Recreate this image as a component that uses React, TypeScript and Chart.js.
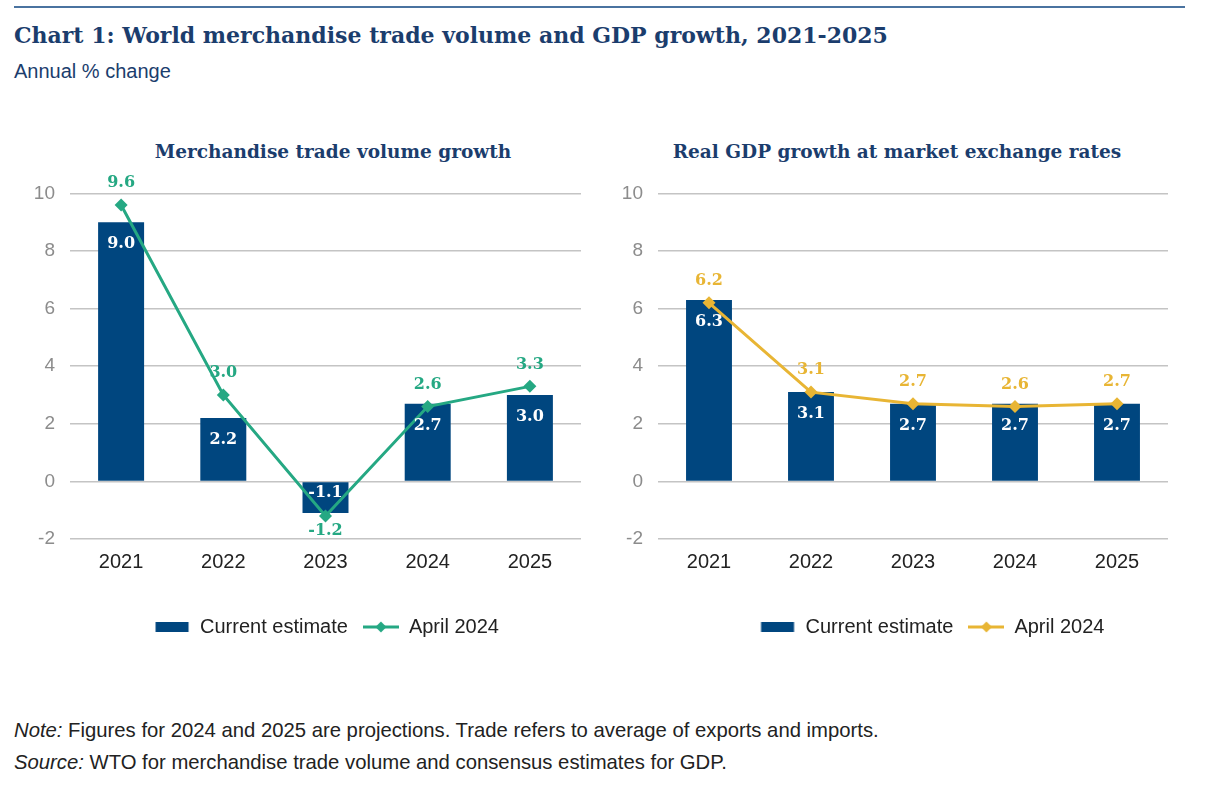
import React, { useEffect, useRef } from "react";
import { Chart, registerables } from "chart.js";

Chart.register(...registerables);

// ---- Data ----
const years = ["2021", "2022", "2023", "2024", "2025"];
const tradeCurrent = [9.0, 2.2, -1.1, 2.7, 3.0];
const tradeApril2024 = [9.6, 3.0, -1.2, 2.6, 3.3];
const gdpCurrent = [6.3, 3.1, 2.7, 2.7, 2.7];
const gdpApril2024 = [6.2, 3.1, 2.7, 2.6, 2.7];
const yMin = -2;
const yMax = 10;
const yStep = 2;
const seriesNames = ["Current estimate", "April 2024"];

// ---- Styles ----
const NAVY = "#00467f";
const GREEN = "#25a883";
const GOLD = "#e8b534";
const TITLE_NAVY = "#1b3d6d";
const SANS = '"Liberation Sans", Arial, sans-serif';
const SERIF = '"DejaVu Serif", "Liberation Serif", serif';

function makeBarIcon(color: string) {
  const c = document.createElement("canvas");
  c.width = 36;
  c.height = 14;
  const g = c.getContext("2d")!;
  g.fillStyle = color;
  g.fillRect(1.5, 2, 33, 10);
  return c;
}

function makeLineIcon(color: string) {
  const c = document.createElement("canvas");
  c.width = 36;
  c.height = 14;
  const g = c.getContext("2d")!;
  g.strokeStyle = color;
  g.lineWidth = 3;
  g.beginPath();
  g.moveTo(0, 7);
  g.lineTo(36, 7);
  g.stroke();
  g.fillStyle = color;
  g.beginPath();
  g.moveTo(18 - 5.5, 7);
  g.lineTo(18, 7 - 5.5);
  g.lineTo(18 + 5.5, 7);
  g.lineTo(18, 7 + 5.5);
  g.closePath();
  g.fill();
  return c;
}

const legendShiftPlugin = {
  id: "legendShift",
  afterLayout(chart: any, _args: any, opts: any) {
    const lg = chart.legend;
    if (lg && opts && opts.dx) {
      lg.left += opts.dx;
      lg.right += opts.dx;
    }
  },
};

const valueLabelPlugin = {
  id: "valueLabels",
  afterDatasetsDraw(chart: any) {
    const ctx = chart.ctx;
    chart.data.datasets.forEach((ds: any, i: number) => {
      const meta = chart.getDatasetMeta(i);
      meta.data.forEach((el: any, j: number) => {
        const v = ds.data[j] as number;
        const txt = v.toFixed(1);
        ctx.save();
        ctx.font = 'bold 16px "DejaVu Serif", "Liberation Serif", serif';
        ctx.textAlign = "center";
        ctx.textBaseline = "middle";
        if (meta.type === "bar") {
          ctx.fillStyle = "#ffffff";
          const y = v >= 0 ? el.y + 22 : el.base + 11;
          ctx.fillText(txt, el.x, y);
        } else {
          ctx.fillStyle = ds.borderColor;
          const y = v >= 0 ? el.y - 22 : el.y + 15;
          ctx.fillText(txt, el.x, y);
        }
        ctx.restore();
      });
    });
  },
};

function Panel(props: {
  current: number[];
  april: number[];
  lineColor: string;
  legendDx: number;
  padRight: number;
  width: number;
  height: number;
}) {
  const ref = useRef<HTMLCanvasElement | null>(null);
  useEffect(() => {
    if (!ref.current) return;
    const barIcon = makeBarIcon(NAVY);
    const lineIcon = makeLineIcon(props.lineColor);
    const chart = new Chart(ref.current, {
      type: "bar",
      data: {
        labels: years,
        datasets: [
          {
            type: "bar",
            label: seriesNames[0],
            data: props.current,
            backgroundColor: NAVY,
            barPercentage: 0.9,
            categoryPercentage: 0.5,
            order: 1,
          } as any,
          {
            type: "line",
            label: seriesNames[1],
            data: props.april,
            borderColor: props.lineColor,
            backgroundColor: props.lineColor,
            borderWidth: 3,
            pointStyle: "rectRot",
            pointRadius: 6.5,
            pointBackgroundColor: props.lineColor,
            pointBorderWidth: 0,
            tension: 0,
            order: 0,
            clip: false,
          } as any,
        ],
      },
      options: {
        animation: false,
        responsive: false,
        events: [],
        layout: { padding: { left: 0, right: props.padRight, top: 20, bottom: 13 } },
        plugins: {
          tooltip: { enabled: false },
          title: { display: false },
          legend: {
            position: "bottom",
            labels: {
              usePointStyle: true,
              pointStyleWidth: 36,
              padding: 15,
              color: "#222222",
              font: { family: SANS, size: 20 },
              generateLabels: () => [
                {
                  text: seriesNames[0],
                  pointStyle: barIcon,
                  fillStyle: NAVY,
                  strokeStyle: NAVY,
                  lineWidth: 0,
                  hidden: false,
                  datasetIndex: 0,
                  fontColor: "#222222",
                } as any,
                {
                  text: seriesNames[1],
                  pointStyle: lineIcon,
                  fillStyle: props.lineColor,
                  strokeStyle: props.lineColor,
                  lineWidth: 0,
                  hidden: false,
                  datasetIndex: 1,
                  fontColor: "#222222",
                } as any,
              ],
            },
          },
          legendShift: { dx: props.legendDx },
        } as any,
        scales: {
          x: {
            grid: { display: false, drawTicks: false },
            border: { display: false },
            ticks: { color: "#222222", font: { family: SANS, size: 20 }, padding: 11 },
            afterFit: (s: any) => {
              s.height = 63;
            },
          },
          y: {
            min: yMin,
            max: yMax,
            ticks: {
              stepSize: yStep,
              color: "#8c8c8c",
              font: { family: SANS, size: 19 },
              padding: 15,
            },
            grid: { color: "#c4c4c4", lineWidth: 1.5, drawTicks: false },
            border: { display: false },
            afterFit: (s: any) => {
              s.width = 70;
            },
          },
        },
      },
      plugins: [legendShiftPlugin, valueLabelPlugin],
    });
    return () => chart.destroy();
  }, []);
  return <canvas ref={ref} width={props.width} height={props.height} style={{ display: "block" }} />;
}

export default function App() {
  const abs = (l: number, t: number): React.CSSProperties => ({
    position: "absolute",
    left: l,
    top: t,
    whiteSpace: "nowrap",
  });
  const subTitle: React.CSSProperties = {
    position: "absolute",
    top: 140,
    textAlign: "center",
    fontFamily: SERIF,
    fontWeight: "bold",
    fontSize: 18.5,
    lineHeight: "24px",
    color: TITLE_NAVY,
    whiteSpace: "nowrap",
  };
  return (
    <div
      style={{
        position: "fixed",
        left: 0,
        top: 0,
        width: 1207,
        height: 785,
        background: "#ffffff",
        overflow: "hidden",
      }}
    >
      <div style={{ position: "absolute", left: 14, top: 6, width: 1171, height: 2, background: "#4a73a0" }} />
      <div
        style={{
          ...abs(14, 22),
          fontFamily: SERIF,
          fontWeight: "bold",
          fontSize: 22,
          lineHeight: "26px",
          color: TITLE_NAVY,
        }}
      >
        Chart 1: World merchandise trade volume and GDP growth, 2021-2025
      </div>
      <div style={{ ...abs(14, 60), fontFamily: SANS, fontSize: 20, lineHeight: "22px", color: TITLE_NAVY }}>
        Annual % change
      </div>
      <div style={{ ...subTitle, left: 133, width: 400 }}>Merchandise trade volume growth</div>
      <div style={{ ...subTitle, left: 647, width: 500 }}>Real GDP growth at market exchange rates</div>
      <div style={{ position: "absolute", left: 0, top: 167 }}>
        <Panel
          current={tradeCurrent}
          april={tradeApril2024}
          lineColor={GREEN}
          legendDx={36}
          padRight={19}
          width={600}
          height={493}
        />
      </div>
      <div style={{ position: "absolute", left: 588, top: 167 }}>
        <Panel
          current={gdpCurrent}
          april={gdpApril2024}
          lineColor={GOLD}
          legendDx={54}
          padRight={20}
          width={600}
          height={493}
        />
      </div>
      <div style={{ ...abs(14, 718), fontFamily: SANS, fontSize: 20.3, lineHeight: "24px", color: "#222222" }}>
        <i>Note:</i> Figures for 2024 and 2025 are projections. Trade refers to average of exports and imports.
      </div>
      <div style={{ ...abs(14, 750), fontFamily: SANS, fontSize: 20.3, lineHeight: "24px", color: "#222222" }}>
        <i>Source:</i> WTO for merchandise trade volume and consensus estimates for GDP.
      </div>
    </div>
  );
}
